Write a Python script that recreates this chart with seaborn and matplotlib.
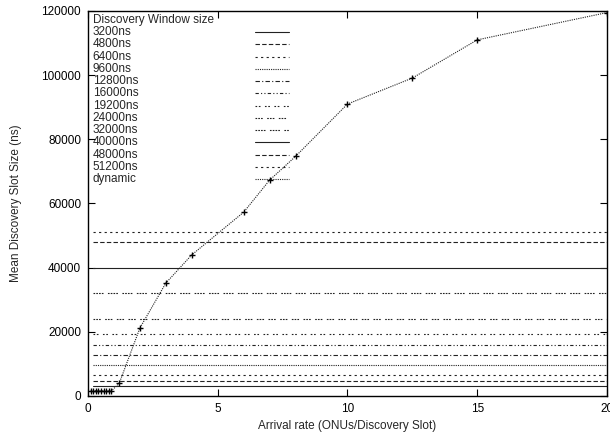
import matplotlib
matplotlib.use("Agg")
import matplotlib.pyplot as plt
import seaborn as sns
import pandas as pd

# Fixed discovery window sizes (ns) and the arrival-rate span they were simulated over
window_labels = ["3200ns", "4800ns", "6400ns", "9600ns", "12800ns", "16000ns",
                 "19200ns", "24000ns", "32000ns", "40000ns", "48000ns", "51200ns"]
window_sizes = [3200, 4800, 6400, 9600, 12800, 16000, 19200, 24000, 32000, 40000, 48000, 51200]
fixed_rate_span = [0.2, 20]

# Dynamic discovery window: mean slot size versus arrival rate
dyn_rate = [0.1, 0.2, 0.3, 0.4, 0.5, 0.6, 0.7, 0.8, 0.9, 1.2, 2, 3, 4, 6, 7, 8, 10, 12.5, 15, 20]
dyn_slot = [1600, 1600, 1600, 1600, 1600, 1600, 1600, 1600, 1600, 3900, 21200, 35200,
            44000, 57300, 67300, 74700, 91000, 99100, 111000, 119500]

x_ticks = [0, 5, 10, 15, 20]
y_ticks = [0, 20000, 40000, 60000, 80000, 100000, 120000]

sns.set_style("ticks")
plt.rcParams["font.family"] = ["Liberation Sans", "DejaVu Sans"]
plt.rcParams["font.size"] = 8.5

# gnuplot-like dash patterns, one per series
line_styles = [
    "-",
    (0, (4, 2)),
    (0, (2, 3)),
    (0, (1, 1)),
    (0, (4, 2, 1, 2)),
    (0, (3, 2, 1, 2, 1, 2)),
    (0, (1.5, 1.5, 1.5, 4)),
    (0, (1.5, 1, 1.5, 1, 1.5, 4)),
    (0, (1.5, 1, 1.5, 1, 1.5, 1, 1.5, 4)),
    "-",
    (0, (4, 2)),
    (0, (2, 3)),
]
dyn_style = (0, (1, 1))
line_color = "#222222"

fig = plt.figure(figsize=(6.10, 4.38), dpi=100)
ax = fig.add_axes([0.1443, 0.0959, 0.8507, 0.879])

for size, ls in zip(window_sizes, line_styles):
    df = pd.DataFrame({"rate": fixed_rate_span, "slot": [size] * len(fixed_rate_span)})
    sns.lineplot(data=df, x="rate", y="slot", ax=ax, color=line_color,
                 linewidth=0.8, linestyle=ls, legend=False)

dyn_df = pd.DataFrame({"rate": dyn_rate, "slot": dyn_slot})
sns.lineplot(data=dyn_df, x="rate", y="slot", ax=ax, color=line_color,
             linewidth=0.8, linestyle=dyn_style, marker="+", markersize=5,
             markeredgewidth=1.0, markeredgecolor="black", legend=False)

ax.set_xlim(0, 20)
ax.set_ylim(0, 120000)
ax.set_xticks(x_ticks)
ax.set_yticks(y_ticks)
ax.set_xticklabels([str(v) for v in x_ticks])
ax.set_yticklabels([str(v) for v in y_ticks])
ax.tick_params(direction="in", length=5, width=0.8, top=True, right=True,
               labelsize=8.5, colors="black", pad=5)
for sp in ax.spines.values():
    sp.set_visible(True)
    sp.set_linewidth(1.0)
    sp.set_color("black")

ax.set_xlabel("Arrival rate (ONUs/Discovery Slot)", fontsize=8.5, labelpad=4)
ax.set_ylabel("Mean Discovery Slot Size (ns)", fontsize=8.5, labelpad=14)

# Key in the upper-left corner: left-aligned labels, line samples on the right
tr = ax.transAxes
x_text = 0.009
x_s0, x_s1 = 0.322, 0.387
y0 = 0.977
step = 0.0318
ax.text(x_text, y0, "Discovery Window size", transform=tr, ha="left", va="center", fontsize=8.5)
labels = window_labels + ["dynamic"]
styles = line_styles + [dyn_style]
for i, (lab, ls) in enumerate(zip(labels, styles)):
    yy = y0 - step * (i + 1)
    ax.text(x_text, yy, lab, transform=tr, ha="left", va="center", fontsize=8.5)
    ax.plot([x_s0, x_s1], [yy, yy], transform=tr, color=line_color,
            linewidth=0.8, linestyle=ls)

fig.savefig("out.png", dpi=100)
